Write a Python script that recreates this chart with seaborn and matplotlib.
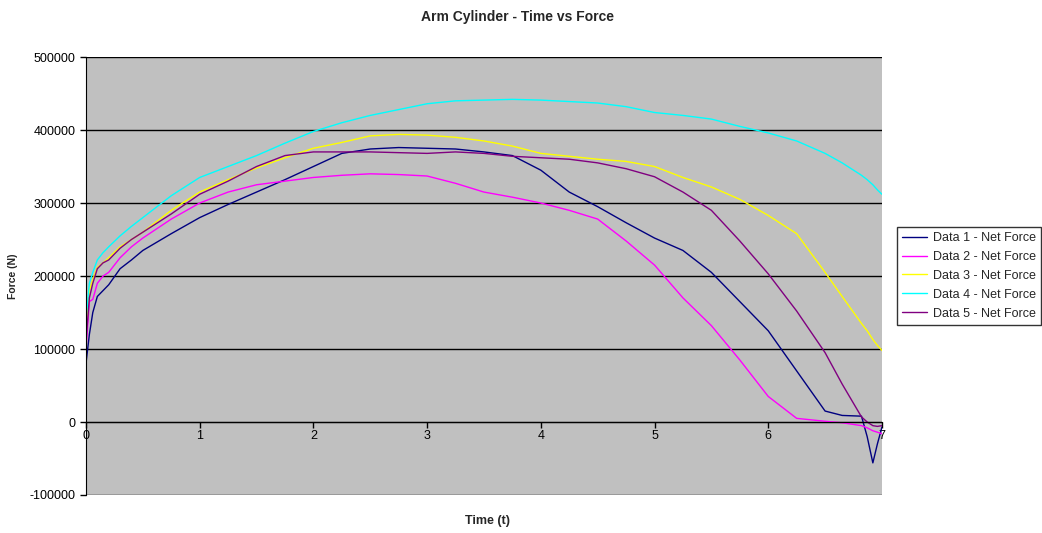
import pandas as pd
import numpy as np
import matplotlib
matplotlib.use('Agg')
import matplotlib.pyplot as plt
import seaborn as sns

# time grid (s) shared by all series
time = [0, 0.03, 0.06, 0.1, 0.15, 0.2, 0.3, 0.4, 0.5, 0.75,
        1.0, 1.25, 1.5, 1.75, 2.0, 2.25, 2.5, 2.75, 3.0, 3.25,
        3.5, 3.75, 4.0, 4.25, 4.5, 4.75, 5.0, 5.25, 5.5, 5.75,
        6.0, 6.25, 6.5, 6.65, 6.82, 6.87, 6.92, 6.96, 7.0]

data1 = [80000, 120000, 150000, 172000, 180000, 188000, 210000, 222000, 235000, 258000,
         280000, 298000, 315000, 332000, 350000, 368000, 374000, 376000, 375000, 374000,
         370000, 365000, 345000, 315000, 295000, 273000, 252000, 235000, 205000, 165000,
         125000, 70000, 15000, 9000, 8000, -20000, -56000, -30000, -7000]
data2 = [100000, 165000, 168000, 190000, 200000, 205000, 225000, 240000, 252000, 278000,
         300000, 315000, 325000, 330000, 335000, 338000, 340000, 339000, 337000, 327000,
         315000, 308000, 300000, 290000, 278000, 248000, 215000, 170000, 132000, 85000,
         35000, 5000, 1000, -1000, -5000, -8000, -12000, -14000, -16000]
data3 = [130000, 180000, 195000, 212000, 218000, 225000, 240000, 250000, 260000, 290000,
         315000, 332000, 348000, 362000, 375000, 383000, 392000, 394000, 393000, 390000,
         385000, 378000, 368000, 364000, 360000, 357000, 350000, 335000, 322000, 305000,
         283000, 258000, 205000, 172000, 135000, 125000, 113000, 105000, 98000]
data4 = [140000, 190000, 205000, 222000, 232000, 240000, 255000, 268000, 280000, 310000,
         335000, 350000, 365000, 382000, 398000, 410000, 420000, 428000, 436000, 440000,
         441000, 442000, 441000, 439000, 437000, 432000, 424000, 420000, 415000, 405000,
         396000, 385000, 368000, 355000, 338000, 332000, 325000, 318000, 312000]
data5 = [110000, 170000, 190000, 210000, 218000, 222000, 238000, 250000, 260000, 285000,
         312000, 330000, 350000, 365000, 370000, 370000, 370000, 369000, 368000, 370000,
         368000, 364000, 362000, 360000, 355000, 347000, 336000, 315000, 290000, 248000,
         203000, 152000, 95000, 52000, 7000, 0, -5000, -6000, -5000]

labels = ['Data 1 - Net Force', 'Data 2 - Net Force', 'Data 3 - Net Force',
          'Data 4 - Net Force', 'Data 5 - Net Force']
colors = ['#000080', '#FF00FF', '#FFFF00', '#00FFFF', '#800080']

frames = []
for name, vals in zip(labels, [data1, data2, data3, data4, data5]):
    frames.append(pd.DataFrame({'Time': time, 'Force': vals, 'Series': name}))
df = pd.concat(frames, ignore_index=True)

sns.set_style('white')
plt.rcParams['font.family'] = ['Liberation Sans', 'DejaVu Sans']
plt.rcParams['axes.unicode_minus'] = False

fig = plt.figure(figsize=(10.42, 5.33), dpi=100)
ax = fig.add_axes([0.0825, 0.0713, 0.7639, 0.8217])
ax.set_facecolor('#C0C0C0')

sns.lineplot(data=df, x='Time', y='Force', hue='Series', palette=colors,
             estimator=None, sort=False, linewidth=1.0, ax=ax)

ax.set_xlim(0, 7)
ax.set_ylim(-100000, 500000)
ax.set_yticks(np.arange(-100000, 500001, 100000))
ax.set_xticks(range(8))
ax.yaxis.grid(True, color='black', linewidth=1.0)
ax.set_axisbelow(True)

for side in ['top', 'right']:
    ax.spines[side].set_visible(False)
ax.spines['left'].set_color('black')
ax.spines['bottom'].set_color('black')
ax.spines['bottom'].set_position(('data', 0))
ax.tick_params(axis='both', direction='out', length=4, width=1, colors='black',
               labelsize=9, bottom=True, left=True)
ax.tick_params(axis='x', pad=2)

fig.suptitle('Arm Cylinder - Time vs Force', x=0.497, y=0.982, fontsize=10,
             fontweight='bold')
ax.set_xlabel('Time (t)', fontsize=9, fontweight='bold')
ax.xaxis.set_label_coords(0.505, -0.045)
ax.set_ylabel('Force (N)', fontsize=7.5, fontweight='bold')
ax.yaxis.set_label_coords(-0.085, 0.5)

leg = ax.legend(loc='upper left', bbox_to_anchor=(0.861, 0.574),
                bbox_transform=fig.transFigure, fontsize=9, frameon=True,
                fancybox=False, handlelength=2.0, handletextpad=0.5,
                labelspacing=0.55, borderpad=0.4, borderaxespad=0)
leg.get_frame().set_edgecolor('black')
leg.get_frame().set_linewidth(1.0)

fig.savefig('out.png', dpi=100)
